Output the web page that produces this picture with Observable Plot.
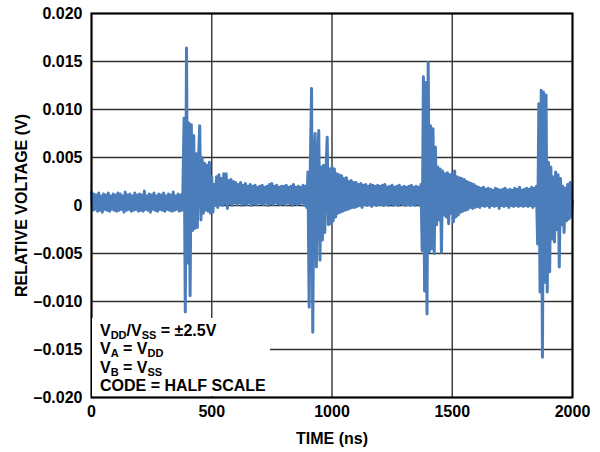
<!DOCTYPE html>
<html>
<head>
<meta charset="utf-8">
<script src="https://cdn.jsdelivr.net/npm/d3@7"></script>
<script src="https://cdn.jsdelivr.net/npm/@observablehq/plot@0.6"></script>
<style>
  body { margin: 0; background: #fff; }
  #wrap { position: relative; width: 600px; height: 452px; font-family: Arial, "Liberation Sans", sans-serif; }
  .note { position: absolute; left: 92px; top: 318px; width: 178px; height: 78px; background: #fff;
          font-weight: bold; font-size: 16px; line-height: 18.3px; padding: 4px 0 0 8px; box-sizing: border-box; color: #000; white-space: nowrap; }
  .note sub { font-size: 11px; vertical-align: baseline; position: relative; top: 3px; line-height: 0; }
</style>
</head>
<body>
<div id="wrap"></div>
<script>
// Relative voltage in mV, one sample every 5 ns from 0 ns to 2000 ns
const timeStep_ns = 5;
const relVoltage_mV = [
  // 0-95 ns
  1.4,-0.5,1.2,-0.4,1.1,-0.6,1.3,-0.5,1.0,-0.7,1.2,-0.4,1.1,-0.5,1.3,-0.6,1.0,-0.4,1.2,-0.5,
  // 100-195 ns
  1.1,-0.6,1.3,-0.5,1.2,-0.4,1.0,-0.7,1.4,-0.5,1.1,-0.4,1.2,-0.6,1.0,-0.5,1.3,-0.4,1.1,-0.6,
  // 200-295 ns
  1.2,-0.5,1.1,-0.6,1.5,-0.4,1.0,-0.5,1.2,-0.7,1.1,-0.4,1.3,-0.5,1.0,-0.6,1.2,-0.4,1.1,-0.5,
  // 300-395 ns
  1.3,-0.6,1.0,-0.4,1.2,-0.5,1.1,-0.6,1.4,-0.5,1.0,-0.4,1.2,-0.6,1.1,-0.5,1.5,9.1,-11.1,16.4,
  // 400-495 ns
  -6.0,8.6,-9.4,8.4,-2.6,7.3,-2.4,5.4,-2.3,5.0,8.3,-1.5,5.0,-0.8,4.4,-0.5,4.2,-0.6,4.5,-0.8,
  // 500-595 ns
  3.0,-0.7,2.2,0.0,3.0,-0.2,3.2,0.1,2.8,0.0,3.3,0.2,3.3,-0.3,2.6,0.2,2.7,0.0,2.5,0.3,
  // 600-695 ns
  2.4,0.1,2.2,0.3,2.4,0.0,2.1,0.2,2.3,0.1,2.0,0.3,2.2,0.0,2.0,0.2,2.1,0.1,1.9,0.3,
  // 700-795 ns
  2.0,0.2,2.1,0.1,1.9,0.3,2.0,0.0,2.2,0.2,2.3,0.1,2.0,0.3,2.1,0.2,1.9,0.1,2.0,0.2,
  // 800-895 ns
  2.0,0.1,2.1,0.3,1.9,0.2,2.0,0.0,2.2,0.2,1.9,0.1,2.0,0.2,1.9,0.3,2.1,0.0,2.0,-0.2,
  // 900-995 ns
  3.5,-10.6,4.5,12.2,-13.2,5.0,7.5,-6.4,4.5,7.8,-5.7,4.0,-3.6,4.2,-2.8,3.5,7.1,-2.0,3.8,-1.9,
  // 1000-1095 ns
  4.0,-1.6,3.8,-1.2,3.3,-0.8,3.2,-0.7,3.1,-0.6,2.8,-0.5,2.9,-0.4,2.5,-0.3,2.6,-0.2,2.4,-0.2,
  // 1100-1195 ns
  2.4,-0.1,2.2,0.0,2.3,-0.2,2.1,0.1,2.2,0.0,2.0,0.1,2.2,-0.1,2.1,0.1,2.0,0.0,2.1,0.1,
  // 1200-1295 ns
  2.0,0.1,2.1,0.0,2.2,0.1,1.9,0.0,2.0,0.2,2.1,0.0,1.9,0.1,2.0,0.0,2.1,0.2,1.9,0.1,
  // 1300-1395 ns
  2.0,0.0,1.9,0.1,2.0,0.0,2.1,0.1,1.9,0.0,2.0,0.2,1.9,0.0,2.2,-4.7,13.4,-8.9,12.8,-11.3,
  // 1400-1495 ns
  14.9,-4.8,8.3,-4.5,8.0,-5.0,6.1,-2.0,4.0,-1.5,3.8,-4.9,3.6,-1.0,3.3,-1.2,3.4,-1.9,3.2,-0.8,
  // 1500-1595 ns
  3.3,-1.7,3.6,-1.2,3.0,-1.0,2.9,-0.7,2.8,-0.6,2.7,-0.5,2.5,-0.4,2.4,-0.2,2.3,-0.3,2.2,-0.2,
  // 1600-1695 ns
  2.0,-0.1,1.9,-0.2,1.8,0.0,1.9,-0.1,1.7,0.0,1.8,-0.2,1.7,0.0,1.6,-0.1,1.8,0.0,1.7,-0.3,
  // 1700-1795 ns
  1.6,0.0,1.7,-0.1,1.8,0.0,1.6,-0.2,1.7,0.0,1.6,-0.1,1.8,0.0,1.7,-0.1,1.9,0.0,1.6,-0.1,
  // 1800-1895 ns
  1.7,0.0,1.8,-0.1,1.7,0.0,1.9,-0.2,1.8,0.0,2.0,-4.0,10.6,-9.0,12.0,-15.8,11.8,-8.0,11.5,-9.0,
  // 1900-1995 ns
  4.5,-6.9,4.0,-3.5,3.0,-3.8,3.5,-2.5,3.2,-6.4,2.8,-2.0,2.0,-2.8,1.8,-1.6,2.2,-1.4,2.4,-1.2,
  // 2000 ns
  0.5
];

const xTicks = [0, 500, 1000, 1500, 2000];
const yTicks = [-0.020, -0.015, -0.010, -0.005, 0, 0.005, 0.010, 0.015, 0.020];
const xTitle = "TIME (ns)";
const yTitle = "RELATIVE VOLTAGE (V)";
const noteLines = [
  "V<sub>DD</sub>/V<sub>SS</sub> = ±2.5V",
  "V<sub>A</sub> = V<sub>DD</sub>",
  "V<sub>B</sub> = V<sub>SS</sub>",
  "CODE = HALF SCALE"
];

const series = relVoltage_mV.map((mv, i) => ({ t: i * timeStep_ns, v: mv / 1000 }));

const fmtX = d => String(d);
const fmtY = d => Math.abs(d) < 1e-12 ? "0" : (d < 0 ? "\u2013" : "") + Math.abs(d).toFixed(3);

const chart = Plot.plot({
  width: 600,
  height: 452,
  marginLeft: 91,
  marginRight: 28,
  marginTop: 13,
  marginBottom: 55,
  x: { domain: [0, 2000] },
  y: { domain: [-0.02, 0.02] },
  style: {
    fontFamily: 'Arial, "Liberation Sans", sans-serif',
    fontSize: "16px",
    fontWeight: "bold",
    color: "#000",
    background: "#fff",
    overflow: "visible"
  },
  marks: [
    Plot.gridX(xTicks, { stroke: "#333", strokeOpacity: 1, strokeWidth: 1.4 }),
    Plot.gridY(yTicks, { stroke: "#333", strokeOpacity: 1, strokeWidth: 1.4 }),
    Plot.line(series, { x: "t", y: "v", stroke: "#4a7dba", strokeWidth: 3 }),
    Plot.frame({ stroke: "#000", strokeWidth: 2 }),
    Plot.axisX(xTicks, { tickSize: 0, tickPadding: 8, tickFormat: fmtX, label: xTitle, labelAnchor: "center", labelOffset: 46, labelArrow: "none" }),
    Plot.axisY(yTicks, { tickSize: 0, tickPadding: 9, tickFormat: fmtY, label: yTitle, labelAnchor: "center", labelOffset: 76, labelArrow: "none" })
  ]
});

const wrap = document.getElementById("wrap");
wrap.appendChild(chart);
const note = document.createElement("div");
note.className = "note";
note.innerHTML = noteLines.map(s => `<div>${s}</div>`).join("");
wrap.appendChild(note);
</script>
</body>
</html>
